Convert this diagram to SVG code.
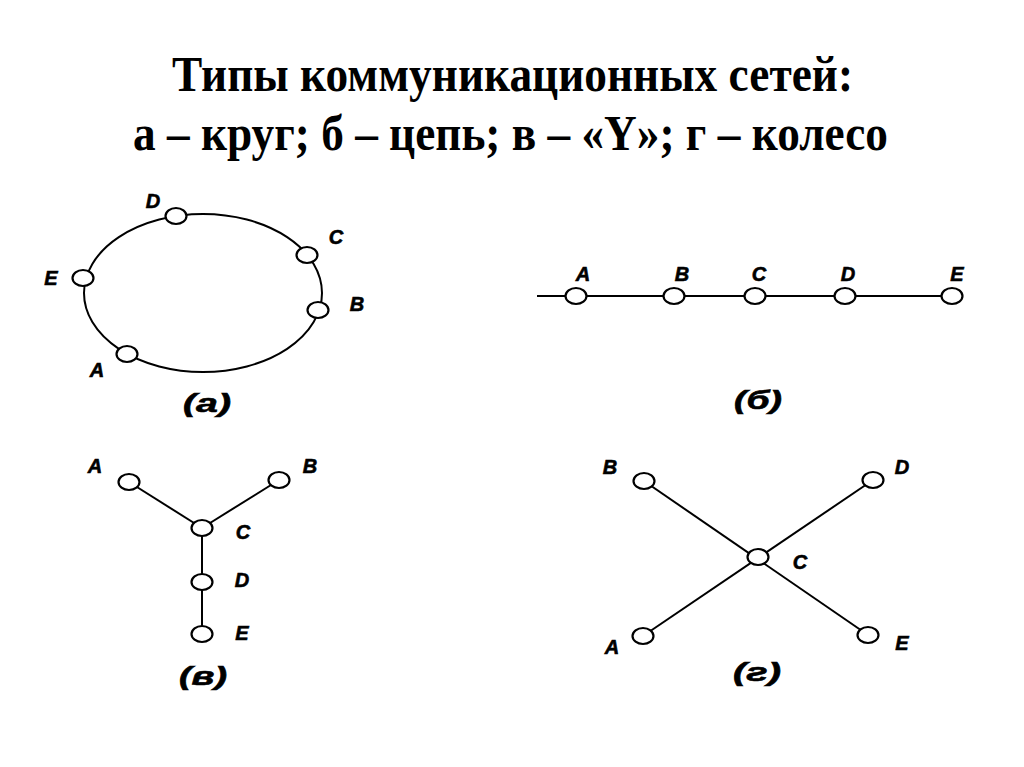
<svg xmlns="http://www.w3.org/2000/svg" width="1024" height="767" viewBox="0 0 1024 767">
<style>
.title{font-family:"Liberation Serif","Times New Roman",serif;font-weight:bold;font-size:50px;fill:#000}
.lbl{font-family:"Liberation Sans",Arial,sans-serif;font-weight:bold;font-style:italic;font-size:20px;fill:#000;stroke:#000;stroke-width:0.6;text-anchor:middle}
.cap{font-family:"Liberation Sans",Arial,sans-serif;font-weight:bold;font-style:italic;font-size:26px;fill:#000;stroke:#000;stroke-width:0.6;text-anchor:middle}
.edge{stroke:#000;stroke-width:2;fill:none}
.node{fill:#fff;stroke:#000;stroke-width:2.2}
</style>
<rect width="1024" height="767" fill="#fff"/>
<text class="title" x="172" y="91" textLength="681" lengthAdjust="spacingAndGlyphs">Типы коммуникационных сетей:</text>
<text class="title" x="133" y="150" textLength="755" lengthAdjust="spacingAndGlyphs">а – круг; б – цепь; в – «Y»; г – колесо</text>

<g id="connectors">
  <ellipse class="edge" cx="203" cy="293" rx="119" ry="79"/>
  <line class="edge" x1="537" y1="296" x2="952" y2="296"/>
  <line class="edge" x1="129" y1="482" x2="202" y2="528"/>
  <line class="edge" x1="279" y1="480" x2="202" y2="528"/>
  <line class="edge" x1="202" y1="528" x2="202" y2="634"/>
  <line class="edge" x1="644" y1="481" x2="868" y2="635"/>
  <line class="edge" x1="873" y1="480" x2="643" y2="636"/>
</g>

<g id="ring">
  <g id="ring-D"><ellipse class="node" cx="176" cy="216" rx="10.5" ry="8"/><text class="lbl" x="153" y="208">D</text></g>
  <g id="ring-C"><ellipse class="node" cx="307" cy="255" rx="10.5" ry="8"/><text class="lbl" x="336" y="244">C</text></g>
  <g id="ring-E"><ellipse class="node" cx="83" cy="278" rx="10.5" ry="8"/><text class="lbl" x="51" y="285">E</text></g>
  <g id="ring-B"><ellipse class="node" cx="318" cy="310" rx="10.5" ry="8"/><text class="lbl" x="357" y="311">B</text></g>
  <g id="ring-A"><ellipse class="node" cx="127" cy="354" rx="10.5" ry="8"/><text class="lbl" x="97" y="377">A</text></g>
  <text class="cap" x="207" y="412" textLength="48" lengthAdjust="spacingAndGlyphs">(a)</text>
</g>

<g id="chain">
  <g id="chain-A"><ellipse class="node" cx="576" cy="296" rx="10.5" ry="8"/><text class="lbl" x="583" y="281">A</text></g>
  <g id="chain-B"><ellipse class="node" cx="674" cy="296" rx="10.5" ry="8"/><text class="lbl" x="682" y="281">B</text></g>
  <g id="chain-C"><ellipse class="node" cx="755" cy="296" rx="10.5" ry="8"/><text class="lbl" x="759" y="281">C</text></g>
  <g id="chain-D"><ellipse class="node" cx="845" cy="296" rx="10.5" ry="8"/><text class="lbl" x="848" y="281">D</text></g>
  <g id="chain-E"><ellipse class="node" cx="952" cy="296" rx="10.5" ry="8"/><text class="lbl" x="957" y="281">E</text></g>
  <text class="cap" x="758" y="409" textLength="48" lengthAdjust="spacingAndGlyphs">(б)</text>
</g>

<g id="y">
  <g id="y-A"><ellipse class="node" cx="129" cy="482" rx="10.5" ry="8"/><text class="lbl" x="95" y="473">A</text></g>
  <g id="y-B"><ellipse class="node" cx="279" cy="480" rx="10.5" ry="8"/><text class="lbl" x="310" y="473">B</text></g>
  <g id="y-C"><ellipse class="node" cx="202" cy="528" rx="10.5" ry="8"/><text class="lbl" x="243" y="539">C</text></g>
  <g id="y-D"><ellipse class="node" cx="202" cy="582" rx="10.5" ry="8"/><text class="lbl" x="242" y="587">D</text></g>
  <g id="y-E"><ellipse class="node" cx="202" cy="634" rx="10.5" ry="8"/><text class="lbl" x="242" y="640">E</text></g>
  <text class="cap" x="203" y="685" textLength="48" lengthAdjust="spacingAndGlyphs">(в)</text>
</g>

<g id="wheel">
  <g id="wheel-B"><ellipse class="node" cx="644" cy="481" rx="10.5" ry="8"/><text class="lbl" x="610" y="474">B</text></g>
  <g id="wheel-D"><ellipse class="node" cx="873" cy="480" rx="10.5" ry="8"/><text class="lbl" x="902" y="474">D</text></g>
  <g id="wheel-C"><ellipse class="node" cx="758" cy="557" rx="10.5" ry="8"/><text class="lbl" x="800" y="569">C</text></g>
  <g id="wheel-A"><ellipse class="node" cx="643" cy="636" rx="10.5" ry="8"/><text class="lbl" x="612" y="654">A</text></g>
  <g id="wheel-E"><ellipse class="node" cx="868" cy="635" rx="10.5" ry="8"/><text class="lbl" x="902" y="650">E</text></g>
  <text class="cap" x="757" y="681" textLength="48" lengthAdjust="spacingAndGlyphs">(г)</text>
</g>
</svg>
